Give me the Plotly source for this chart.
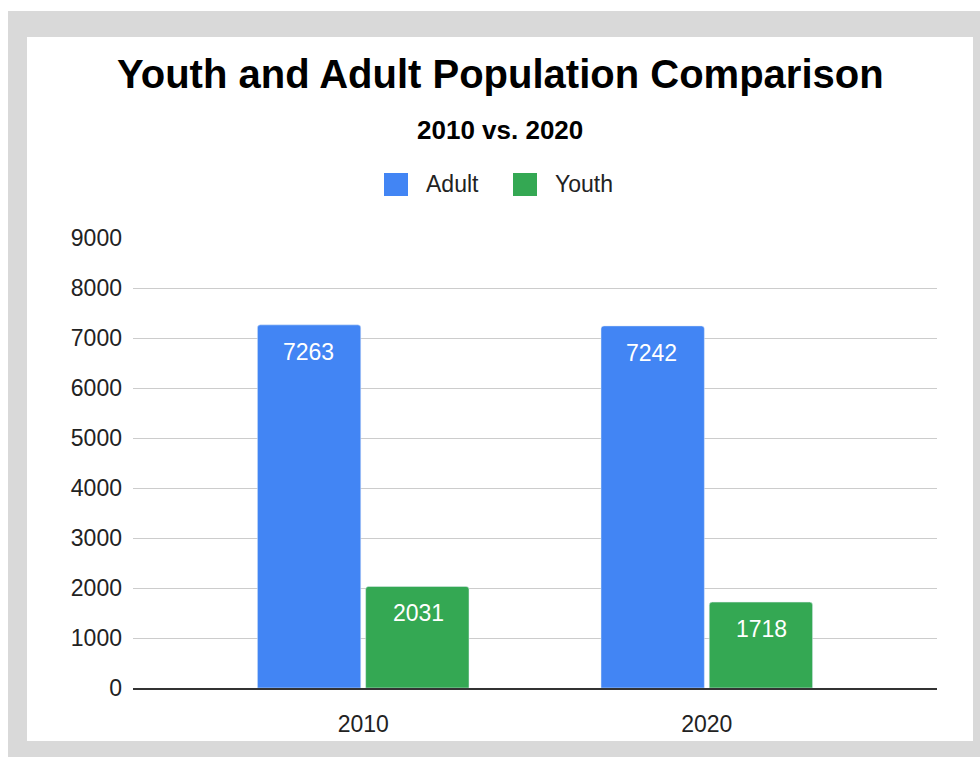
import plotly.graph_objects as go

# Data
years = ["2010", "2020"]
adult = [7263, 7242]
youth = [2031, 1718]
y_ticks = [0, 1000, 2000, 3000, 4000, 5000, 6000, 7000, 8000, 9000]

BLUE = "#4285f4"
GREEN = "#34a853"
FONT = "Liberation Sans, Arial, sans-serif"

W, H = 980, 757
ML, MR, MT, MB = 133, 43, 238, 69
PW, PH = W - ML - MR, H - MT - MB


def px_x(px):
    return (px - ML) / PW


def px_y(py):
    return (H - MB - py) / PH


fig = go.Figure()
fig.add_bar(x=years, y=adult, name="Adult", marker_color=BLUE)
fig.add_bar(x=years, y=youth, name="Youth", marker_color=GREEN)

# value labels just inside the top of each bar
annotations = []
for i, (a, yv) in enumerate(zip(adult, youth)):
    for offs, val in ((-0.16, a), (0.16, yv)):
        annotations.append(dict(
            x=i + offs, y=val, xref="x", yref="y", text=str(val),
            showarrow=False, yanchor="top", yshift=-12,
            font=dict(family=FONT, size=23, color="white"),
        ))

# titles
annotations.append(dict(
    x=px_x(500), y=px_y(74), xref="paper", yref="paper",
    text="<b>Youth and Adult Population Comparison</b>", showarrow=False,
    xanchor="center", yanchor="middle",
    font=dict(family=FONT, size=40, color="#000000"),
))
annotations.append(dict(
    x=px_x(500), y=px_y(130), xref="paper", yref="paper",
    text="<b>2010 vs. 2020</b>", showarrow=False,
    xanchor="center", yanchor="middle",
    font=dict(family=FONT, size=26, color="#000000"),
))

# legend entries
legend_items = [("Adult", BLUE, 384), ("Youth", GREEN, 513)]
shapes = [
    dict(type="rect", xref="paper", yref="paper", layer="below",
         x0=px_x(8), x1=px_x(W), y0=px_y(11), y1=px_y(H),
         fillcolor="#d9d9d9", line_width=0),
    dict(type="rect", xref="paper", yref="paper", layer="below",
         x0=px_x(27), x1=px_x(973), y0=px_y(37), y1=px_y(741),
         fillcolor="#ffffff", line_width=0),
]
for name, color, x0 in legend_items:
    shapes.append(dict(
        type="rect", xref="paper", yref="paper",
        x0=px_x(x0), x1=px_x(x0 + 24), y0=px_y(173), y1=px_y(196),
        fillcolor=color, line_width=0,
    ))
    annotations.append(dict(
        x=px_x(x0 + 40), y=px_y(184), xref="paper", yref="paper",
        text=name, showarrow=False, xanchor="left", yanchor="middle",
        font=dict(family=FONT, size=23, color="#222222"),
    ))

fig.update_layout(
    width=W, height=H,
    margin=dict(l=ML, r=MR, t=MT, b=MB),
    paper_bgcolor="#ffffff",
    plot_bgcolor="rgba(0,0,0,0)",
    showlegend=False,
    barmode="group",
    bargap=0.37,
    bargroupgap=0.045,
    barcornerradius=3,
    shapes=shapes,
    annotations=annotations,
    font=dict(family=FONT, size=22, color="#222222"),
)
fig.update_yaxes(
    range=[0, 9000], tickvals=y_ticks, ticktext=[str(v) for v in y_ticks],
    showgrid=True, gridcolor="#cccccc", gridwidth=1,
    zeroline=False, showline=False, ticks="",
    ticklabelstandoff=10,
    tickfont=dict(family=FONT, size=23, color="#222222"),
)
fig.update_xaxes(
    type="category", range=[-0.67, 1.67],
    showgrid=False, showline=True, linecolor="#333333", linewidth=2,
    ticks="", ticklabelstandoff=14,
    tickfont=dict(family=FONT, size=23, color="#222222"),
)

fig.write_html("out.html")
